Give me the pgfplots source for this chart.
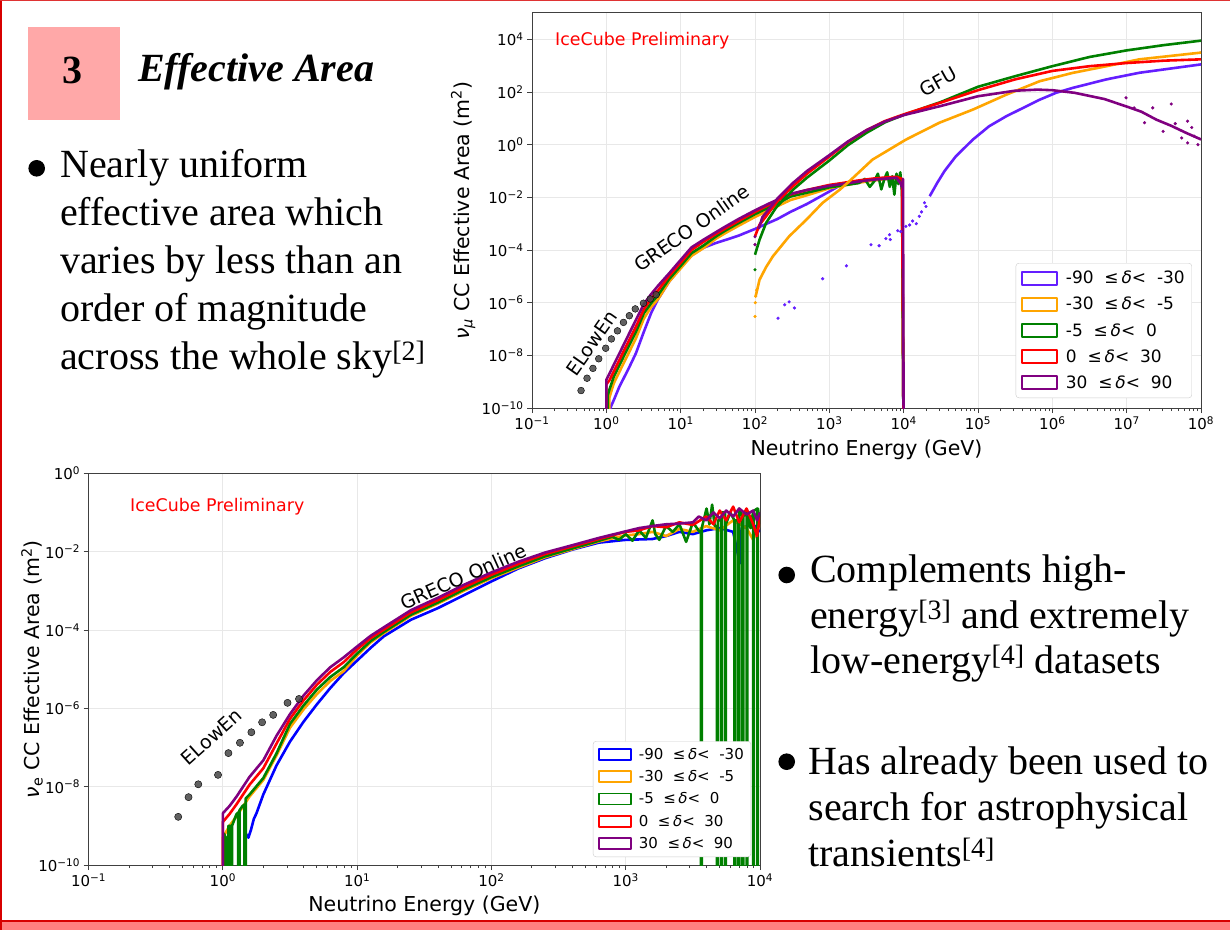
\documentclass[border=0pt]{standalone}
\usepackage{pgfplots}
\pgfplotsset{compat=1.18}
\usepackage{fontspec}
\setmainfont{Liberation Serif}
\newfontfamily\plotfont{DejaVu Sans}

\definecolor{decA}{RGB}{100,30,255}
\definecolor{decAb}{RGB}{0,0,255}
\definecolor{decB}{RGB}{255,165,0}
\definecolor{decC}{RGB}{0,128,0}
\definecolor{decD}{RGB}{255,0,0}
\definecolor{decE}{RGB}{128,0,128}
\definecolor{lowen}{RGB}{70,70,70}
\definecolor{boxpink}{RGB}{255,168,168}
\definecolor{barpink}{RGB}{255,128,128}
\definecolor{barred}{RGB}{215,0,0}

\newcommand{\bigtext}{\fontsize{40}{48}\selectfont}
\newcommand{\tk}{\plotfont\fontsize{15}{18}\selectfont}
\newcommand{\lb}{\plotfont\fontsize{20.5}{24}\selectfont}
\newcommand{\ann}{\plotfont\fontsize{19}{22}\selectfont}
\newcommand{\tp}[1]{10\textsuperscript{#1}}
\newcommand{\dl}[2]{#1\ \ ≤\,\textit{δ}<\ \ #2}

\pgfplotsset{
  dots/.style={only marks, mark=*, mark size=3.4pt, mark options={draw=none, fill=lowen, fill opacity=0.85}, forget plot},
  greco/.style={line width=2.6pt, line join=round},
  gfu/.style={line width=2.6pt, line join=round, forget plot},
  gfudot/.style={only marks, mark=*, mark size=1.4pt, mark options={draw=none}, forget plot},
}

\begin{document}
\begin{tikzpicture}[x=1pt,y=1pt]
\useasboundingbox (0,0) rectangle (1230,930);
\fill[white] (0,0) rectangle (1230,930);
\fill[barpink] (0,0) rectangle (1230,8);
\fill[barred] (0,8) rectangle (1230,10.5);
\fill[barred] (0,0) rectangle (1.6,930);
\fill[barred!80] (0,928.6) rectangle (1230,930);

% heading
\fill[boxpink] (28.3,810.3) rectangle (119.7,903);
\node[anchor=base, inner sep=0, font=\bigtext\bfseries] at (72.3,846.7) {3};
\node[anchor=base west, inner sep=0, font=\bigtext\bfseries\itshape] at (138,848.3) {Effective Area};

% left text
\fill (36.7,761.7) circle (8.3);
\node[anchor=base west, inner sep=0, font=\bigtext] at (60,752) {Nearly uniform};
\node[anchor=base west, inner sep=0, font=\bigtext] at (60,704) {effective area which};
\node[anchor=base west, inner sep=0, font=\bigtext] at (60,656) {varies by less than an};
\node[anchor=base west, inner sep=0, font=\bigtext] at (60,608) {order of magnitude};
\node[anchor=base west, inner sep=0, font=\bigtext] at (60,560) {across the whole sky\textsuperscript{[2]}};

% right text
\fill (786.7,355) circle (8.3);
\node[anchor=base west, inner sep=0, font=\bigtext] at (810,347.7) {Complements high-};
\node[anchor=base west, inner sep=0, font=\bigtext] at (810,301.7) {energy\textsuperscript{[3]} and extremely};
\node[anchor=base west, inner sep=0, font=\bigtext] at (810,256.7) {low-energy\textsuperscript{[4]} datasets};
\fill (786.7,168.3) circle (8.3);
\node[anchor=base west, inner sep=0, font=\bigtext] at (808.3,156) {Has already been used to};
\node[anchor=base west, inner sep=0, font=\bigtext] at (808.3,110) {search for astrophysical};
\node[anchor=base west, inner sep=0, font=\bigtext] at (808.3,63.3) {transients\textsuperscript{[4]}};

% ---------------- numu plot ----------------
\begin{loglogaxis}[
  scale only axis, anchor=south west,
  at={(532pt,522pt)}, width=669pt, height=395pt,
  axis line style={draw=black!75, line width=1pt},
  tick align=outside, tick pos=left,
  major tick length=5pt, minor tick length=3pt,
  tick style={draw=black!75, line width=0.8pt},
  grid=major, major grid style={draw=black!9, line width=0.8pt},
  tick label style={font=\tk},
  label style={font=\lb},
  xmin=0.1, xmax=1e8, ymin=1e-10, ymax=1e5,
  xtick={1e-1,1,1e1,1e2,1e3,1e4,1e5,1e6,1e7,1e8},
  xticklabels={\tp{−1},\tp{0},\tp{1},\tp{2},\tp{3},\tp{4},\tp{5},\tp{6},\tp{7},\tp{8}},
  ytick={1e-10,1e-8,1e-6,1e-4,1e-2,1,1e2,1e4},
  yticklabels={\tp{−10},\tp{−8},\tp{−6},\tp{−4},\tp{−2},\tp{0},\tp{2},\tp{4}},
  xlabel={Neutrino Energy (GeV)},
  ylabel={\textit{ν}\textsubscript{\textit{μ}} CC Effective Area (m\textsuperscript{2})},
  xlabel style={at={(axis description cs:0.5,-0.106)}, anchor=center},
  ylabel style={at={(axis description cs:-0.103,0.5)}, anchor=center},
  legend cell align=left,
  legend image code/.code={\draw[#1, sharp corners, line width=2pt, fill=none] (0pt,-6.5pt) rectangle (35pt,6.5pt);},
  legend style={at={(0.9865,0.0253)}, anchor=south east, draw=black!20, fill=white, rounded corners=3pt,
    font=\plotfont\fontsize{17}{20}\selectfont,
    row sep=8pt, inner xsep=5pt, inner ysep=6pt,
    /tikz/every odd column/.append style={column sep=6pt}},
]
% GRECO Online
\addplot[greco, decA] coordinates {(1.15,1e-12)(1.15,1.12e-10)(1.26,2.0e-10)(1.5,6.5e-10)(2,3.2e-9)(2.5,1.2e-8)(3.2,7.9e-8)(4,4.0e-7)(5,1.41e-6)(7,6.3e-6)(10,2.2e-5)(14,6.3e-5)(20,1.2e-4)(30,1.86e-4)(40,2.4e-4)(60,3.5e-4)(100,6.3e-4)(150,1.05e-3)(200,1.5e-3)(300,2.8e-3)(500,5.6e-3)(1000,1.66e-2)(1500,3.2e-2)(2500,3.8e-2)(4000,4.5e-2)(6000,5.0e-2)(8000,5.2e-2)(9500,3.2e-2)(10000,1e-12)};
\addlegendentry{\dl{-90}{-30}}
\addplot[greco, decB] coordinates {(1.1,1e-12)(1.1,2.5e-10)(1.26,8.7e-10)(1.58,3.2e-9)(2,1.23e-8)(2.5,4.4e-8)(3.2,2.5e-7)(4,6.8e-7)(5,1.41e-6)(7,6.3e-6)(10,2.0e-5)(14,6.0e-5)(20,1.15e-4)(30,2.7e-4)(40,4.4e-4)(60,8.3e-4)(100,1.8e-3)(150,3.2e-3)(200,4.6e-3)(300,7.9e-3)(500,1.2e-2)(1000,2.2e-2)(1500,2.8e-2)(2500,3.6e-2)(4000,4.4e-2)(6000,5.0e-2)(8000,5.2e-2)(9500,3.2e-2)(10000,1e-12)};
\addlegendentry{\dl{-30}{-5}}
\addplot[greco, decC] coordinates {(1.05,1e-12)(1.05,3.2e-10)(1.1,5.0e-10)(1.26,1.55e-9)(1.58,5.75e-9)(2,2.2e-8)(2.5,7.8e-8)(3.2,4.0e-7)(4,9.5e-7)(5,2.0e-6)(7,7.9e-6)(10,2.5e-5)(14,7.6e-5)(20,1.45e-4)(30,3.3e-4)(40,5.5e-4)(60,1.05e-3)(100,2.3e-3)(150,4.0e-3)(200,5.75e-3)(300,1.07e-2)(500,1.5e-2)(1000,2.4e-2)(1500,2.8e-2)(2500,3.5e-2)(3000,5.0e-2)(3500,2.5e-2)(4000,4.0e-2)(4500,7.9e-2)(5000,2.0e-2)(5500,5.0e-2)(6000,8.9e-2)(6500,2.5e-2)(7000,6.3e-2)(7500,1.26e-2)(8000,7.9e-2)(8500,3.2e-2)(9000,8.9e-2)(9500,1.6e-2)(10000,1e-12)};
\addlegendentry{\dl{-5}{0}}
\addplot[greco, decD] coordinates {(1,1e-12)(1,7.9e-10)(1.1,1.12e-9)(1.26,2.45e-9)(1.58,9.1e-9)(2,3.5e-8)(2.5,1.23e-7)(3.2,5.6e-7)(4,1.41e-6)(5,3.0e-6)(7,1.05e-5)(10,3.3e-5)(14,1.0e-4)(20,2.0e-4)(30,4.1e-4)(40,6.6e-4)(60,1.26e-3)(100,2.8e-3)(150,5.0e-3)(200,7.6e-3)(300,1.29e-2)(500,1.9e-2)(1000,2.95e-2)(1500,3.5e-2)(2500,4.4e-2)(4000,5.2e-2)(6000,5.75e-2)(8000,6.0e-2)(9500,5.0e-2)(10000,1e-12)};
\addlegendentry{\dl{0}{30}}
\addplot[greco, decE] coordinates {(1,1e-12)(1,1.17e-9)(1.1,2.0e-9)(1.26,4.4e-9)(1.58,1.6e-8)(2,6.2e-8)(2.5,2.2e-7)(3.2,8.9e-7)(4,2.1e-6)(5,4.5e-6)(7,1.3e-5)(10,4.2e-5)(14,1.26e-4)(20,2.4e-4)(30,4.8e-4)(40,7.8e-4)(60,1.5e-3)(100,3.2e-3)(150,5.6e-3)(200,8.1e-3)(300,1.35e-2)(500,1.9e-2)(1000,2.75e-2)(1500,3.2e-2)(2500,4.0e-2)(4000,4.7e-2)(6000,5.2e-2)(8000,5.5e-2)(9000,3.5e-2)(9500,2.5e-2)(9800,5e-2)(10000,1e-12)};
\addlegendentry{\dl{30}{90}}
% GFU
\addplot[gfudot, decA] coordinates {(204,2.57e-7)(251,8.3e-7)(288,1.07e-6)(339,6.3e-7)(813,8.1e-6)(1698,2.5e-5)(3631,1.58e-4)(4677,1.45e-4)(5754,2.7e-4)(6457,3.8e-4)(6607,2.5e-4)(8318,5.4e-4)(9120,5.0e-4)(10715,7.9e-4)(12023,8.9e-4)(13183,1.26e-3)(14791,1.0e-3)(16218,1.9e-3)(17378,2.8e-3)(19055,6.2e-3)(19953,4.5e-3)};
\addplot[gfu, decA] coordinates {(22387,1.1e-2)(28200,3.5e-2)(35500,0.1)(50100,0.355)(85100,1.55)(141000,5.0)(240000,12.0)(676000,51)(1120000,93)(1910000,145)(5370000,302)(14800000,537)(95500000,1096)(1e8,1122)};
\addplot[gfudot, decB] coordinates {(100,3.0e-7)(101,1.0e-6)(102,1.74e-6)(105,3.0e-6)};
\addplot[gfu, decB] coordinates {(102,1.74e-6)(115,7.4e-6)(141,2.24e-5)(174,5.75e-5)(288,3.3e-4)(490,1.41e-3)(813,6.2e-3)(1380,1.95e-2)(1862,4.1e-2)(3802,0.27)(10700,1.55)(30200,6.8)(85100,21.4)(240000,79)(676000,257)(1910000,537)(5370000,955)(14800000,1738)(95500000,3090)(1e8,3162)};
\addplot[gfudot, decC] coordinates {(100,1.78e-5)};
\addplot[gfu, decC] coordinates {(100,6.6e-5)(115,2.45e-4)(141,1.07e-3)(191,4.0e-3)(324,1.95e-2)(501,5.6e-2)(1000,0.25)(1778,0.955)(3162,2.82)(5623,7.08)(1e4,13.5)(31623,41.7)(1e5,158)(316228,398)(1e6,955)(3162278,2138)(1e7,3802)(31622777,6026)(1e8,8913)};
\addplot[gfu, decD] coordinates {(100,3.3e-4)(115,9.1e-4)(126,1.26e-3)(200,7.1e-3)(316,2.5e-2)(501,7.9e-2)(1000,0.355)(1778,1.26)(3162,3.55)(5623,7.9)(1e4,14.1)(31623,39.8)(1e5,117)(316228,302)(1e6,631)(3162278,955)(1e7,1259)(31622777,1549)(1e8,1738)};
\addplot[gfudot, decE] coordinates {(100,1.6e-4)(100,3.2e-4)(9.8e6,60)(1.26e7,25)(1.74e7,6.8)(2.24e7,25)(3.09e7,3.2)(3.98e7,35)(4.5e7,6.3)(5.5e7,1.8)(6.6e7,7.8)(6.6e7,1.17)(7.5e7,4.5)(8.1e7,2.1)(9.1e7,1.0)};
\addplot[gfu, decE] coordinates {(112,6.3e-4)(126,1.78e-3)(200,8.9e-3)(316,3.3e-2)(501,0.1)(1000,0.4)(1778,1.32)(3162,3.55)(5623,7.6)(1e4,13.2)(31623,29.5)(1e5,69)(316228,112)(631000,123)(1e6,117)(2e6,93)(5.01e6,54)(1e7,28)(1.58e7,17.8)(2.51e7,8.9)(3.98e7,5.2)(6.31e7,2.8)(1e8,1.58)};
% ELowEn
\addplot[dots] coordinates {(0.457,4.6e-10)(0.55,1.35e-9)(0.66,3.2e-9)(0.79,7.4e-9)(0.98,1.86e-8)(1.17,4.2e-8)(1.41,8.5e-8)(1.70,1.78e-7)(2.04,3.2e-7)(2.45,5.8e-7)(3.16,9.5e-7)(3.89,1.38e-6)(4.68,2.0e-6)};
\node[inner sep=0, anchor=west, text=red, font=\plotfont\fontsize{17.4}{20}\selectfont] at (rel axis cs:0.0344,0.929) {IceCube Preliminary};
\node[font=\ann, rotate=55] at (rel axis cs:0.0892,0.1638) {ELowEn};
\node[font=\ann, rotate=35] at (rel axis cs:0.2387,0.4549) {GRECO Online};
\node[font=\ann, rotate=29] at (rel axis cs:0.6073,0.8261) {GFU};
\end{loglogaxis}

% ---------------- nue plot ----------------
\begin{loglogaxis}[
  scale only axis, anchor=south west,
  at={(88.6pt,65pt)}, width=671.4pt, height=391.7pt,
  axis line style={draw=black!75, line width=1pt},
  tick align=outside, tick pos=left,
  major tick length=5pt, minor tick length=3pt,
  tick style={draw=black!75, line width=0.8pt},
  grid=major, major grid style={draw=black!9, line width=0.8pt},
  tick label style={font=\tk},
  label style={font=\lb},
  xmin=0.1, xmax=1e4, ymin=1e-10, ymax=1,
  xtick={1e-1,1,1e1,1e2,1e3,1e4},
  xticklabels={\tp{−1},\tp{0},\tp{1},\tp{2},\tp{3},\tp{4}},
  ytick={1e-10,1e-8,1e-6,1e-4,1e-2,1},
  yticklabels={\tp{−10},\tp{−8},\tp{−6},\tp{−4},\tp{−2},\tp{0}},
  xlabel={Neutrino Energy (GeV)},
  ylabel={\textit{ν}\textsubscript{e} CC Effective Area (m\textsuperscript{2})},
  xlabel style={at={(axis description cs:0.5,-0.1047)}, anchor=center},
  ylabel style={at={(axis description cs:-0.0843,0.5)}, anchor=center},
  legend cell align=left,
  legend image code/.code={\draw[#1, sharp corners, line width=1.8pt, fill=none] (0pt,-5.5pt) rectangle (32pt,5.5pt);},
  legend style={at={(0.9866,0.0204)}, anchor=south east, draw=black!20, fill=white, rounded corners=3pt,
    font=\plotfont\fontsize{15}{18}\selectfont,
    row sep=5.6pt, inner xsep=5pt, inner ysep=5pt,
    /tikz/every odd column/.append style={column sep=5pt}},
]
\addplot[greco, decAb] coordinates {(1.45,1e-12)(1.45,7e-10)(1.55,5.0e-10)(1.62,8e-10)(1.7,1.5e-9)(1.78,2.1e-9)(2.0,6.3e-9)(2.51,3.5e-8)(3.16,1.41e-7)(3.98,4.5e-7)(5.01,1.26e-6)(6.31,3.3e-6)(7.94,7.9e-6)(10,1.66e-5)(12.6,3.5e-5)(15.8,6.9e-5)(25.1,1.82e-4)(39.8,3.6e-4)(63.1,7.9e-4)(100,1.74e-3)(158,3.7e-3)(251,6.8e-3)(398,1.12e-2)(631,1.7e-2)(1000,2.0e-2)(1580,2.1e-2)(2000,2.5e-2)(2510,3.2e-2)(3160,2.8e-2)(3980,3.5e-2)(5010,4.0e-2)(6310,3.2e-2)(7080,5.0e-3)(7300,4.0e-2)(8900,5.0e-2)(10000,3.2e-2)};
\addlegendentry{\dl{-90}{-30}}
\addplot[greco, decB] coordinates {(1,1e-12)(1,5.0e-10)(1.12,1e-9)(1.26,1.74e-9)(1.58,5.6e-9)(2.0,1.48e-8)(2.51,6.3e-8)(3.16,3.2e-7)(3.98,9.3e-7)(5.01,2.3e-6)(6.31,5.0e-6)(7.94,8.9e-6)(10,2.24e-5)(12.6,4.8e-5)(15.8,8.3e-5)(25.1,2.3e-4)(39.8,4.7e-4)(63.1,1.02e-3)(100,2.1e-3)(158,3.9e-3)(251,7.2e-3)(398,1.15e-2)(631,1.82e-2)(1000,2.6e-2)(1260,2.8e-2)(1580,3.2e-2)(2000,2.5e-2)(2510,3.8e-2)(3160,3.2e-2)(3980,4.5e-2)(5010,3.5e-2)(6310,6.3e-2)(7940,4.0e-2)(8900,2.0e-2)(10000,5.0e-2)};
\addlegendentry{\dl{-30}{-5}}
\addplot[greco, decC] coordinates {(1.02,1e-12)(1.02,6.3e-10)(1.05,5.0e-10)(1.07,5.0e-10)(1.07,1e-12)(1.1,1e-12)(1.1,1e-9)(1.15,1e-9)(1.15,1e-12)(1.17,1e-12)(1.17,1e-9)(1.2,1.26e-9)(1.26,1.95e-9)(1.3,2.2e-9)(1.3,1e-12)(1.33,1e-12)(1.33,2.5e-9)(1.4,3.2e-9)(1.45,3.5e-9)(1.45,1e-12)(1.48,1e-12)(1.48,5.0e-9)(1.58,6.3e-9)(2.0,1.66e-8)(2.51,7.1e-8)(3.16,4.0e-7)(3.98,1.17e-6)(5.01,3.0e-6)(6.31,6.3e-6)(7.94,1.12e-5)(10,2.5e-5)(12.6,5.2e-5)(15.8,8.9e-5)(25.1,2.45e-4)(39.8,5.0e-4)(63.1,1.1e-3)(100,2.24e-3)(158,4.2e-3)(251,7.6e-3)(398,1.2e-2)(631,1.9e-2)(794,2.4e-2)(891,2.0e-2)(1000,2.8e-2)(1122,1.9e-2)(1259,3.5e-2)(1413,2.24e-2)(1585,6.3e-2)(1660,2.8e-2)(1778,2.0e-2)(1995,4.5e-2)(2239,3.2e-2)(2512,5.0e-2)(2818,1.78e-2)(3162,5.6e-2)(3548,3.2e-2)(3631,3.2e-2)(3631,1e-12)(3680,1e-12)(3680,4.0e-2)(4000,0.126)(4200,5.0e-2)(4400,0.158)(4600,4.5e-2)(4786,4.5e-2)(4786,1e-12)(4850,1e-12)(4850,6.3e-2)(5129,6.3e-2)(5129,1e-12)(5200,1e-12)(5200,0.1)(5495,0.1)(5495,1e-12)(5570,1e-12)(5570,5.0e-2)(6000,0.1)(6457,6.3e-2)(6457,1e-12)(6540,1e-12)(6540,6.3e-2)(6918,6.3e-2)(6918,1e-12)(7000,1e-12)(7000,0.126)(7413,7.9e-2)(7413,1e-12)(7500,1e-12)(7500,7.9e-2)(7943,0.1)(7943,1e-12)(8030,1e-12)(8030,0.1)(8500,4.0e-2)(8913,0.11)(8913,1e-12)(9000,1e-12)(9000,0.11)(9550,0.126)(9550,1e-12)(9650,1e-12)(9650,0.126)(10000,5e-2)};
\addlegendentry{\dl{-5}{0}}
\addplot[greco, decD] coordinates {(1,1e-12)(1,1.26e-9)(1.12,2.0e-9)(1.26,3.5e-9)(1.58,1.12e-8)(2.0,2.95e-8)(2.51,1.26e-7)(3.16,5.4e-7)(3.98,1.58e-6)(5.01,4.0e-6)(6.31,8.5e-6)(7.94,1.51e-5)(10,3.2e-5)(12.6,6.2e-5)(15.8,1.02e-4)(25.1,2.8e-4)(39.8,5.75e-4)(63.1,1.26e-3)(100,2.57e-3)(158,4.8e-3)(251,8.7e-3)(398,1.35e-2)(631,2.1e-2)(1000,3.2e-2)(1260,3.5e-2)(1580,4.5e-2)(2000,4.2e-2)(2510,5.6e-2)(3160,4.8e-2)(3980,7.9e-2)(4500,5.0e-2)(5010,0.112)(5600,6.3e-2)(6310,0.141)(7000,5.6e-2)(7940,0.126)(8900,5.0e-2)(9500,2.5e-2)(10000,7.9e-2)};
\addlegendentry{\dl{0}{30}}
\addplot[greco, decE] coordinates {(1,1e-12)(1,2.1e-9)(1.12,3.2e-9)(1.26,5.5e-9)(1.58,1.78e-8)(2.0,4.7e-8)(2.51,2.0e-7)(3.16,7.1e-7)(3.98,2.1e-6)(5.01,5.2e-6)(6.31,1.12e-5)(7.94,2.0e-5)(10,3.8e-5)(12.6,7.1e-5)(15.8,1.17e-4)(25.1,3.2e-4)(39.8,6.6e-4)(63.1,1.45e-3)(100,2.95e-3)(158,5.5e-3)(251,9.5e-3)(398,1.45e-2)(631,2.24e-2)(1000,3.3e-2)(1260,4.0e-2)(1580,4.5e-2)(2000,5.0e-2)(2510,5.2e-2)(3160,5.6e-2)(3500,7.9e-2)(3980,6.3e-2)(4500,0.1)(5010,7.1e-2)(5600,0.112)(6310,7.9e-2)(7000,0.126)(7940,8.9e-2)(8900,0.112)(9500,6.3e-2)(10000,0.1)};
\addlegendentry{\dl{30}{90}}
\addplot[dots, mark size=3.6pt] coordinates {(0.465,1.7e-9)(0.555,5.4e-9)(0.656,1.15e-8)(0.92,2.0e-8)(1.10,7.2e-8)(1.34,1.32e-7)(1.63,2.45e-7)(1.96,4.4e-7)(2.37,6.8e-7)(3.03,1.38e-6)(3.69,1.74e-6)};
\node[inner sep=0, anchor=west, text=red, font=\plotfont\fontsize{17.4}{20}\selectfont] at (rel axis cs:0.0617,0.914) {IceCube Preliminary};
\node[font=\ann, rotate=42] at (rel axis cs:0.1834,0.3275) {ELowEn};
\node[font=\ann, rotate=24] at (rel axis cs:0.5581,0.7360) {GRECO Online};
\end{loglogaxis}
\end{tikzpicture}
\end{document}
